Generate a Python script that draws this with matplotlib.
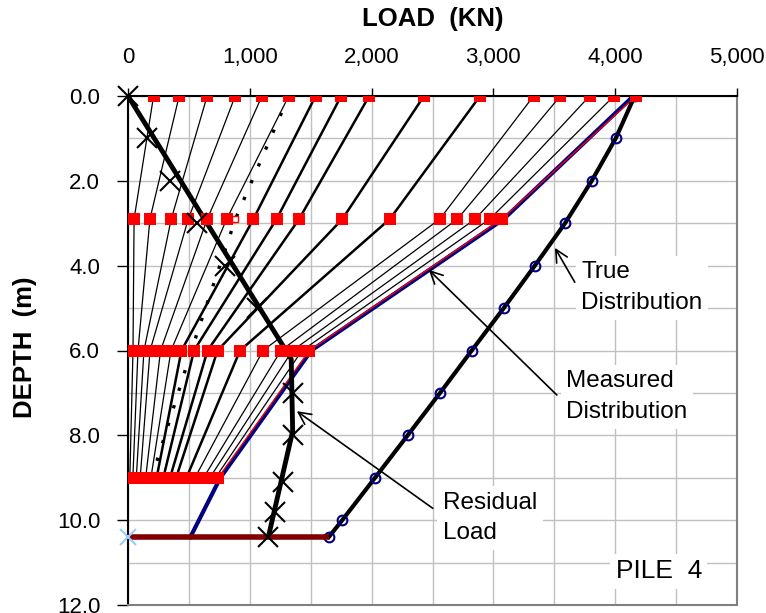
import numpy as np
import matplotlib.pyplot as plt
from matplotlib.ticker import MultipleLocator, FuncFormatter

# Gauge levels (m) and load per load increment at each level (kN)
gauge_depth = [0.0, 2.9, 6.0, 9.0]
load_d00 = [210, 420, 650, 880, 1100, 1320, 1540, 1750, 1980, 2430, 2890, 3330, 3550, 3790, 3990, 4170]
load_d29 = [50, 180, 355, 495, 650, 810, 1030, 1220, 1405, 1760, 2150, 2560, 2705, 2850, 2970, 3070]
load_d60 = [41, 82, 131, 181, 267, 353, 439, 542, 653, 735, 920, 1108, 1256, 1351, 1429, 1490]
load_d90 = [15, 40, 68, 100, 145, 188, 235, 290, 345, 395, 480, 550, 620, 672, 718, 740]
line_width = [0.9, 0.9, 0.9, 0.9, 0.9, 0.9, 1.8, 1.8, 1.8, 1.8, 1.8, 0.9, 0.9, 0.9, 0.9, 0.9]

# dotted curve
dotted_load = [1320, 882, 520, 195]

# measured distribution (max load)
meas_depth = [0.0, 2.9, 6.0, 9.0, 10.4]
meas_load = [4150, 3085, 1505, 758, 512]

# true distribution
true_depth = [0, 1, 2, 3, 4, 5, 6, 7, 8, 9, 10, 10.4]
true_load = [4160, 4004, 3807, 3588, 3340, 3085, 2822, 2562, 2296, 2028, 1759, 1648]

# residual load
resid_depth = [0.0, 6.2, 7.9, 10.4]
resid_load = [0, 1340, 1352, 1152]
resid_x_depth = [0, 1, 2, 3, 4, 5, 7, 8, 9.1, 9.8, 10.4]
resid_x_load = [0, 154, 345, 564, 796, 1057, 1357, 1357, 1275, 1207, 1152]

# pile toe
toe_depth = 10.4
toe_load = [0, 1648]

plt.rcParams['font.family'] = ['Liberation Sans', 'DejaVu Sans']

fig = plt.figure(figsize=(7.66, 6.13), dpi=100)
ax = fig.add_axes([128 / 766, 1 - 605 / 613, (737 - 128) / 766, (605 - 96) / 613])

# load increment lines
for i in range(len(load_d00)):
	loads = [load_d00[i], load_d29[i], load_d60[i], load_d90[i]]
	col = 'red' if i == len(load_d00) - 1 else 'black'
	ax.plot(loads, gauge_depth, color=col, lw=line_width[i], zorder=2.5 if col == 'red' else 2)

ax.plot(dotted_load, gauge_depth, color='black', lw=2.4, ls=(0, (1, 4.5)), zorder=2,
		marker='s', ms=5, mfc='white', mec='red', mew=1)

ax.plot(meas_load, meas_depth, color='#000080', lw=3, zorder=2.4)
ax.plot(true_load, true_depth, color='black', lw=3, zorder=3,
		marker='o', ms=7, mfc='none', mec='#000080', mew=1.5)
ax.plot(resid_load, resid_depth, color='black', lw=3.5, zorder=3, solid_capstyle='butt')
ax.plot(toe_load, [toe_depth] * 2, color='#800000', lw=4, zorder=3.5, solid_capstyle='butt')

# gauge squares
for d, loads in zip(gauge_depth, [load_d00, load_d29, load_d60, load_d90]):
	ax.plot(loads, [d] * len(loads), 's', color='red', ms=8.5, mew=0, zorder=4)

ax.plot(resid_x_load, resid_x_depth, 'x', color='black', ms=14, mew=1.5, zorder=5, clip_on=False)
ax.plot([0], [toe_depth], 'x', color='#99ccff', ms=11, mew=1.5, zorder=5, clip_on=False)

# axes
ax.set_xlim(0, 5000)
ax.set_ylim(12, 0)
ax.xaxis.tick_top()
ax.xaxis.set_major_locator(MultipleLocator(1000))
ax.xaxis.set_minor_locator(MultipleLocator(500))
ax.yaxis.set_major_locator(MultipleLocator(2))
ax.yaxis.set_minor_locator(MultipleLocator(1))
ax.xaxis.set_major_formatter(FuncFormatter(lambda v, p: f'{v:,.0f}'))
ax.yaxis.set_major_formatter(FuncFormatter(lambda v, p: f'{v:.1f}'))
ax.grid(which='both', color='#c0c0c0', lw=1, zorder=0)
ax.set_axisbelow(True)
ax.tick_params(axis='x', which='major', length=6, pad=14.5, labelsize=16, width=1)
ax.tick_params(axis='y', which='major', length=8, pad=12, labelsize=16, width=1)
ax.tick_params(which='minor', length=0)
ax.spines['top'].set_linewidth(1.5)
ax.spines['left'].set_linewidth(1.5)
for s in ['right', 'bottom']:
	ax.spines[s].set_color('#808080')
	ax.spines[s].set_linewidth(1.5)

fig.text(433 / 766, 1 - 19 / 613, 'LOAD  (KN)', ha='center', va='center',
		 fontsize=18.5, fontweight='bold')
fig.text(25 / 766, 1 - 347 / 613, 'DEPTH  (m)', ha='center', va='center',
		 rotation=90, fontsize=18.5, fontweight='bold')

box = dict(facecolor='white', edgecolor='none', pad=4)
arrow = dict(arrowstyle='->', color='black', lw=1.2, mutation_scale=22, shrinkA=0, shrinkB=0)
ax.text(3720, 3.9, 'True\nDistribution', fontsize=17.5, va='top', ha='left',
		linespacing=1.5, bbox=box, zorder=6)
ax.annotate('', xy=(3505, 3.58), xytext=(3668, 4.39), arrowprops=arrow, zorder=6)
ax.text(3600, 6.47, 'Measured\nDistribution', fontsize=17.5, va='top', ha='left',
		linespacing=1.5, bbox=box, zorder=6)
ax.annotate('', xy=(2470, 4.1), xytext=(3521, 7.05), arrowprops=arrow, zorder=6)
ax.text(2585, 9.33, 'Residual\nLoad', fontsize=17.5, va='top', ha='left',
		linespacing=1.5, bbox=box, zorder=6)
ax.annotate('', xy=(1386, 7.43), xytext=(2502, 9.72), arrowprops=arrow, zorder=6)
ax.text(4003, 11.37, 'PILE  4', fontsize=19, va='baseline', ha='left', bbox=box, zorder=6)

plt.savefig('out.png', dpi=100)
